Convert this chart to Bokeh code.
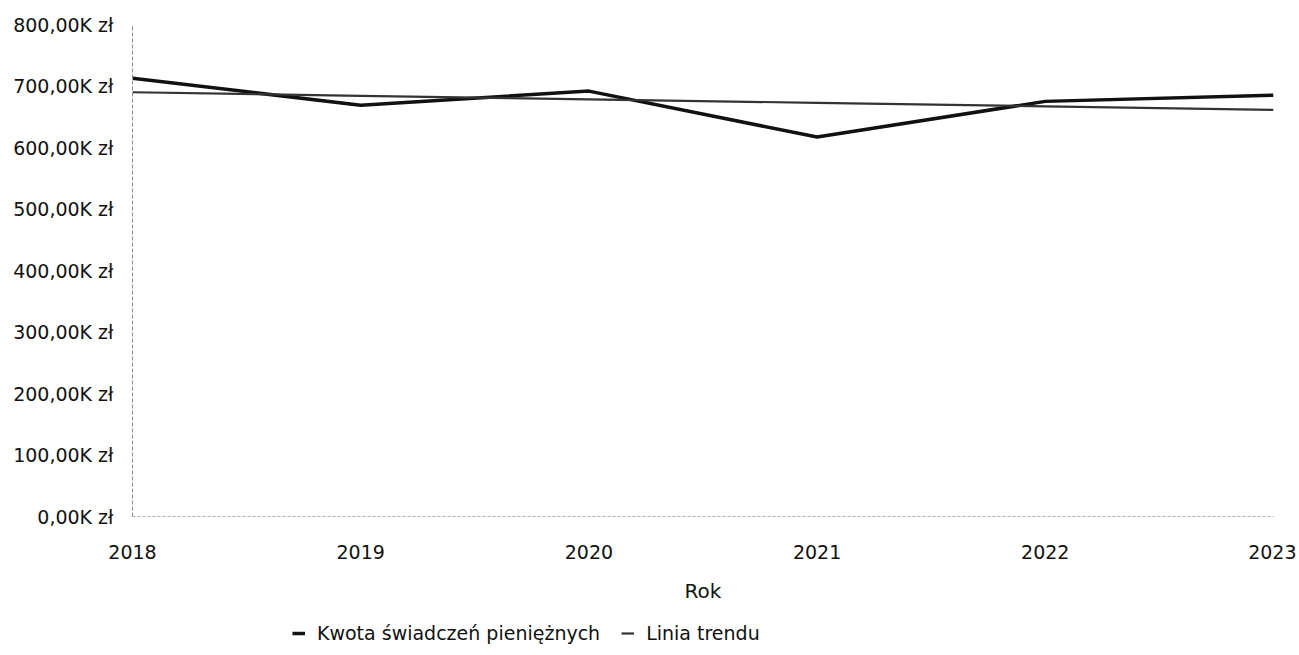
from bokeh.plotting import figure
from bokeh.models import FixedTicker, Range1d, Legend, LegendItem
from bokeh.layouts import column
from bokeh.embed import file_html
from bokeh.resources import INLINE

years = [2018, 2019, 2020, 2021, 2022, 2023]
kwota = [712500, 668800, 691700, 617000, 675000, 685000]
trend = [689800, 684000, 678300, 672600, 666900, 661200]
y_ticks = [0, 100000, 200000, 300000, 400000, 500000, 600000, 700000, 800000]
y_tick_labels = ["0,00K zł", "100,00K zł", "200,00K zł", "300,00K zł", "400,00K zł",
                 "500,00K zł", "600,00K zł", "700,00K zł", "800,00K zł"]
x_label = "Rok"
series_names = ["Kwota świadczeń pieniężnych", "Linia trendu"]

FONT = "DejaVu Sans"
TXT = "#111111"
MAIN_COLOR, MAIN_W = "#111111", 3.5
TREND_COLOR, TREND_W = "#333333", 2.2

p = figure(width=1296, height=612, output_backend="svg", toolbar_location=None,
           x_range=Range1d(2018, 2023), y_range=Range1d(0, 800000),
           min_border_left=132, min_border_right=23, min_border_top=24, min_border_bottom=96)
p.outline_line_color = None
p.xgrid.grid_line_color = None
p.ygrid.grid_line_color = None

p.line(years, kwota, line_color=MAIN_COLOR, line_width=MAIN_W)
p.line(years, trend, line_color=TREND_COLOR, line_width=TREND_W)

p.yaxis.ticker = FixedTicker(ticks=y_ticks)
p.yaxis.major_label_overrides = {t: l for t, l in zip(y_ticks, y_tick_labels)}
p.yaxis.axis_line_color = "#8a8a8a"
p.yaxis.axis_line_dash = "4 2"
p.yaxis.major_tick_line_color = None
p.yaxis.minor_tick_line_color = None
p.yaxis.major_label_standoff = 13
p.yaxis.major_label_text_font = FONT
p.yaxis.major_label_text_font_size = "19px"
p.yaxis.major_label_text_color = TXT

p.xaxis.ticker = FixedTicker(ticks=years)
p.xaxis.major_label_overrides = {y: str(y) for y in years}
p.xaxis.axis_line_color = "#b0b0b0"
p.xaxis.axis_line_dash = "3 2"
p.xaxis.major_tick_line_color = None
p.xaxis.minor_tick_line_color = None
p.xaxis.major_label_standoff = 22
p.xaxis.major_label_text_font = FONT
p.xaxis.major_label_text_font_size = "19px"
p.xaxis.major_label_text_color = TXT
p.xaxis.axis_label = x_label
p.xaxis.axis_label_standoff = 17
p.xaxis.axis_label_text_font = FONT
p.xaxis.axis_label_text_font_size = "20px"
p.xaxis.axis_label_text_font_style = "normal"
p.xaxis.axis_label_text_color = TXT

# legend strip below the chart (its lines lie outside its visible range; only the legend shows)
pl = figure(width=1296, height=40, output_backend="svg", toolbar_location=None,
            x_axis_location=None, y_axis_location=None,
            x_range=Range1d(0, 1), y_range=Range1d(0, 1),
            min_border_left=0, min_border_right=0, min_border_top=0, min_border_bottom=0)
pl.outline_line_color = None
pl.xgrid.grid_line_color = None
pl.ygrid.grid_line_color = None
l1 = pl.line(years, kwota, line_color=MAIN_COLOR, line_width=MAIN_W)
l2 = pl.line(years, trend, line_color=TREND_COLOR, line_width=TREND_W)
legend = Legend(items=[LegendItem(label=series_names[0], renderers=[l1]),
                       LegendItem(label=series_names[1], renderers=[l2])],
                orientation="horizontal", location=(160, 8),
                label_text_font=FONT, label_text_font_size="19px", label_text_color=TXT,
                glyph_width=13, glyph_height=14, spacing=21, padding=5, margin=0,
                border_line_color=None, background_fill_alpha=0, label_standoff=12)
pl.add_layout(legend, "center")

layout = column(p, pl, spacing=0)
open("out.html", "w").write(file_html(layout, INLINE))
